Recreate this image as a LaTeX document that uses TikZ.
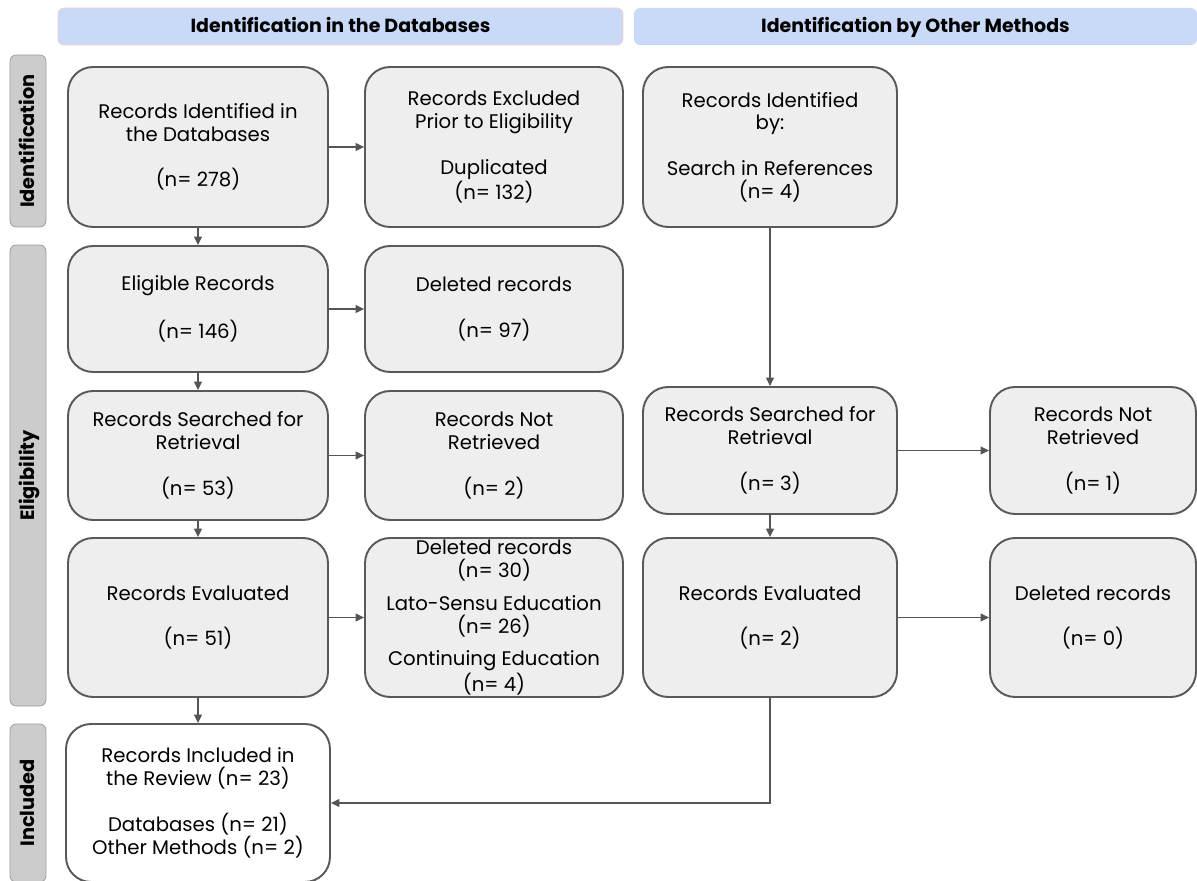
\documentclass[tikz,border=0pt]{standalone}
\usepackage{fontspec}
\setmainfont{Poppins}
\usetikzlibrary{arrows.meta}
\definecolor{boxfill}{HTML}{EEEEEE}
\definecolor{boxline}{HTML}{595959}
\definecolor{headfill}{HTML}{C9DAF8}
\definecolor{headline}{HTML}{F4CCCC}
\definecolor{sidefill}{HTML}{CCCCCC}
\definecolor{sideline}{HTML}{999999}
\definecolor{arrowcol}{HTML}{555555}

\begin{document}
\begin{tikzpicture}[x=0.02cm,y=-0.02cm,font=\fontsize{11.2}{13}\selectfont,>={Triangle[length=1.7mm,width=1.6mm]},
  box/.style={draw=boxline,fill=boxfill,line width=1.1pt,rounded corners=0.5cm,align=center,inner sep=0pt},
  head/.style={fill=headfill,rounded corners=0.12cm,minimum height=0.74cm,inner sep=0pt,text height=0.9em,text depth=0.2em,font=\fontsize{10.8}{13}\selectfont\bfseries},
  side/.style={draw=sideline,fill=sidefill,rounded corners=0.12cm,rotate=90,minimum height=0.72cm,inner sep=0pt,text height=0.9em,text depth=0.2em,font=\fontsize{11}{13}\selectfont\bfseries},
  flow/.style={->,draw=arrowcol,line width=0.6pt}]
  \useasboundingbox (0,0) rectangle (1197,881);
  \clip (0,0) rectangle (1197,881);
  % ============ ENCABEZADOS ============
  \node[head,draw=headline,minimum width=11.3cm] (hdb) at (340.5,26.5) {Identification in the Databases};
  \node[head,minimum width=11.26cm] (hother) at (915.5,26.5) {Identification by Other Methods};
  % ============ FASES (izquierda) ============
  \node[side,minimum width=3.44cm] (sident) at (28,141) {Identification};
  \node[side,minimum width=9.22cm] (selig) at (28,475.5) {Eligibility};
  \node[side,minimum width=3.16cm] (sincl) at (28,803) {Included};
  % ============ BASES DE DATOS ============
  \node[box,minimum width=5.2cm,minimum height=3.2cm] (dbident) at (198,147) {Records Identified in\\the Databases\\[13pt](n= 278)};
  \node[box,minimum width=5.16cm,minimum height=3.2cm] (excl) at (494,147) {Records Excluded\\Prior to Eligibility\\[13pt]Duplicated\\(n= 132)};
  \node[box,minimum width=5.2cm,minimum height=2.52cm] (eligible) at (198,309) {Eligible Records\\[13pt](n= 146)};
  \node[box,minimum width=5.16cm,minimum height=2.52cm] (deleted) at (494,309) {Deleted records\\[13pt](n= 97)};
  \node[box,minimum width=5.2cm,minimum height=2.58cm] (dbsearch) at (198,455.5) {Records Searched for\\Retrieval\\[13pt](n= 53)};
  \node[box,minimum width=5.16cm,minimum height=2.58cm] (dbnotret) at (494,455.5) {Records Not\\Retrieved\\[13pt](n= 2)};
  \node[box,minimum width=5.2cm,minimum height=3.18cm] (dbeval) at (198,617.5) {Records Evaluated\\[13pt](n= 51)};
  \node[box,minimum width=5.16cm,minimum height=3.18cm] (dbdel) at (494,617.5) {Deleted records\\(n= 30)\\[5.5pt]Lato-Sensu Education\\(n= 26)\\[5.5pt]Continuing Education\\(n= 4)};
  \node[box,fill=white,minimum width=5.28cm,minimum height=3.16cm] (included) at (198,803) {Records Included in\\the Review (n= 23)\\[13pt]Databases (n= 21)\\Other Methods (n= 2)};
  % ============ OTROS METODOS ============
  \node[box,minimum width=5.08cm,minimum height=3.2cm] (otherident) at (770,147) {Records Identified\\by:\\[13pt]Search in References\\(n= 4)};
  \node[box,minimum width=5.08cm,minimum height=2.54cm] (othersearch) at (770,450.5) {Records Searched for\\Retrieval\\[13pt](n= 3)};
  \node[box,minimum width=4.12cm,minimum height=2.54cm] (othernotret) at (1093,450.5) {Records Not\\Retrieved\\[13pt](n= 1)};
  \node[box,minimum width=5.08cm,minimum height=3.18cm] (othereval) at (770,617.5) {Records Evaluated\\[13pt](n= 2)};
  \node[box,minimum width=4.12cm,minimum height=3.18cm] (otherdel) at (1093,617.5) {Deleted records\\[13pt](n= 0)};
  % ---------- flechas ----------
  \draw[flow] (dbident) -- (excl);
  \draw[flow] (dbident) -- (eligible);
  \draw[flow] (eligible) -- (deleted);
  \draw[flow] (eligible) -- (dbsearch);
  \draw[flow] (dbsearch) -- (dbnotret);
  \draw[flow] (dbsearch) -- (dbeval);
  \draw[flow] (dbeval) -- (dbdel);
  \draw[flow] (dbeval) -- (included);
  \draw[flow] (otherident) -- (othersearch);
  \draw[flow] (othersearch) -- (othernotret);
  \draw[flow] (othersearch) -- (othereval);
  \draw[flow] (othereval) -- (otherdel);
  \draw[flow] (othereval.south) |- (included.east);
\end{tikzpicture}
\end{document}
